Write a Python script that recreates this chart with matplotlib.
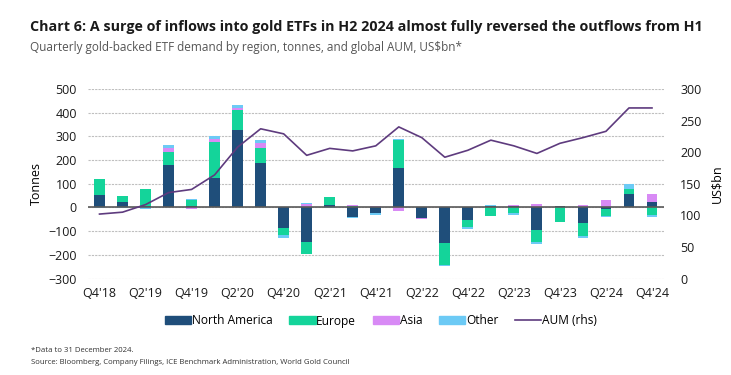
import numpy as np
import matplotlib.pyplot as plt
from matplotlib.patches import Patch
from matplotlib.lines import Line2D

plt.rcParams['font.family'] = ['Open Sans', 'DejaVu Sans']

quarters = ["Q4'18", "Q1'19", "Q2'19", "Q3'19", "Q4'19", "Q1'20", "Q2'20", "Q3'20", "Q4'20",
            "Q1'21", "Q2'21", "Q3'21", "Q4'21", "Q1'22", "Q2'22", "Q3'22", "Q4'22",
            "Q1'23", "Q2'23", "Q3'23", "Q4'23", "Q1'24", "Q2'24", "Q3'24", "Q4'24"]

# tonnes per quarter
north_america = [54, 24, 6, 180, 5, 126, 325, 187, -85, -144, 11, -40, -25, 168, -44, -150, -52,
                 5, 7, -95, 4, -66, -7, 55, 24]
europe = [66, 24, 73, 56, 25, 151, 87, 66, -30, -54, 34, 4, 0, 116, 0, -93, -29,
          -36, -25, -52, -62, -54, -28, 21, -31]
asia = [0, 0, 0, 16, -8, 12, 9, 20, 0, 14, 0, 8, 5, -17, -4, 0, 0,
        0, 4, 16, 0, 11, 32, 3, 34]
other = [-4, -4, -5, 11, 5, 11, 12, 10, -12, 6, -3, -6, -5, 3, -2, -3, -11,
         7, -5, -7, 3, -7, -6, 22, -10]

# global AUM, US$bn
aum = [102, 105, 117, 136, 141, 164, 208, 237, 229, 195, 206, 202, 210, 240, 223, 192, 203,
       219, 210, 198, 214, 223, 233, 270, 270]

series = [("North America", north_america, "#1f4e7a"),
          ("Europe", europe, "#14d49a"),
          ("Asia", asia, "#d88af5"),
          ("Other", other, "#6ccaf5")]

fig = plt.figure(figsize=(7.31, 3.75), dpi=100)
ax = fig.add_axes([88/731, 1-278.5/375, 575.5/731, 189.5/375])
ax2 = ax.twinx()

x = np.arange(len(quarters))
pos_bottom = np.zeros(len(x))
neg_bottom = np.zeros(len(x))
for name, vals, col in series:
    v = np.array(vals, dtype=float)
    b = np.where(v >= 0, pos_bottom, neg_bottom)
    ax.bar(x, v, 0.47, bottom=b, color=col, zorder=3)
    pos_bottom += np.where(v >= 0, v, 0)
    neg_bottom += np.where(v < 0, v, 0)

ax2.plot(x, aum, color="#5e3b7e", lw=1.2, zorder=4)

ax.set_xlim(-0.5, len(x) - 0.5)
ax.set_ylim(-300, 500)
ax.set_yticks(np.arange(-300, 501, 100))
ax2.set_ylim(0, 300)
ax2.set_yticks(np.arange(0, 301, 50))
ax.set_xticks(x[::2])
ax.set_xticklabels(quarters[::2])

ax.yaxis.grid(True, color="#bfbfbf", lw=0.8, ls=(0, (2, 1)), zorder=0)
ax.axhline(0, color="#595959", lw=1.2, zorder=3.5)
for a in (ax, ax2):
    for s in a.spines.values():
        s.set_visible(False)
    a.tick_params(length=0, labelsize=9, colors="#1a1a1a")
ax.tick_params(axis="x", pad=6)
ax.tick_params(axis="y", pad=8)
ax2.tick_params(axis="y", pad=12)
ax.set_ylabel("Tonnes", fontsize=9, labelpad=4)
ax2.set_ylabel("US$bn", fontsize=9, labelpad=6)

fig.text(30/731, 1-27/375, "Chart 6: A surge of inflows into gold ETFs in H2 2024 almost fully reversed the outflows from H1",
         fontsize=10.3, fontweight="bold", va="center", color="#1a1a1a")
fig.text(30/731, 1-47/375, "Quarterly gold-backed ETF demand by region, tonnes, and global AUM, US$bn*",
         fontsize=8.5, va="center", color="#555555")

handles = [Patch(color=c) for _, _, c in series] + [Line2D([], [], color="#5e3b7e", lw=1.2)]
labels = [n for n, _, _ in series] + ["AUM (rhs)"]
fig.legend(handles, labels, loc="center", bbox_to_anchor=(381/731, 1-321/375), ncol=5,
           frameon=False, fontsize=8.6, handlelength=2.2, handleheight=0.6, handletextpad=0.05,
           columnspacing=1.4)

fig.text(31/731, 1-351/375, "*Data to 31 December 2024.", fontsize=5.6, va="center", color="#333333")
fig.text(31/731, 1-362/375, "Source: Bloomberg, Company Filings, ICE Benchmark Administration, World Gold Council",
         fontsize=5.6, va="center", color="#333333")

fig.savefig("out.png", dpi=100)
